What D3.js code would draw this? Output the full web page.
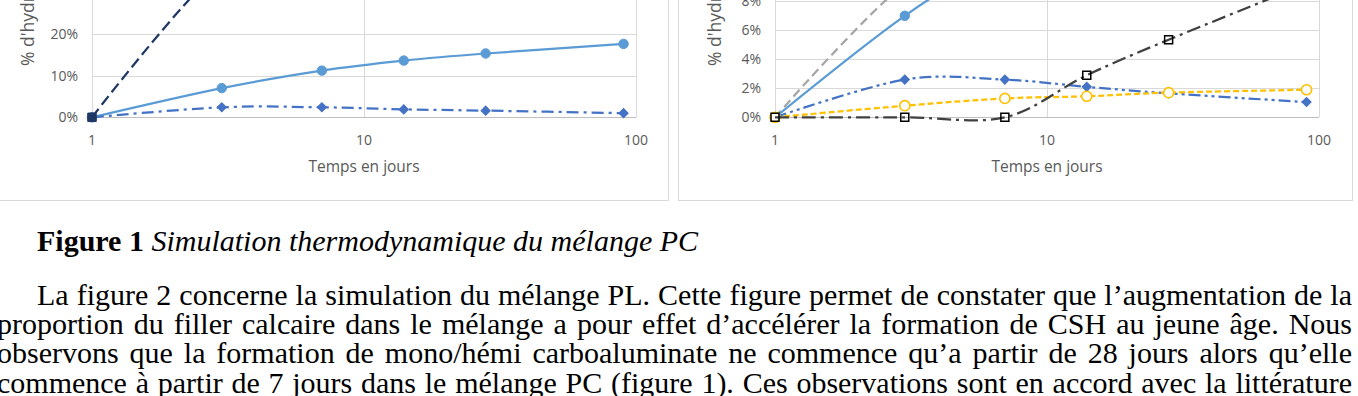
<!DOCTYPE html>
<html>
<head>
<meta charset="utf-8">
<script src="https://cdn.jsdelivr.net/npm/d3@7"></script>
<style>
  html, body { margin: 0; padding: 0; background: #fff; overflow: hidden; }
  svg { display: block; }
</style>
</head>
<body>
<svg id="page" width="1358" height="396"></svg>
<script>
// days of simulation (log axis)
const days = [1, 3, 7, 14, 28, 90];
const xTicks = [1, 10, 100];

// left chart (% of hydrates)
const leftNavy = [0, 36, 45, 50, 53, 55];
const leftCsh = [0, 7.0, 11.2, 13.6, 15.3, 17.6];
const leftBlue = [0, 2.4, 2.4, 1.9, 1.6, 1.0];
const leftYTicks = [0, 10, 20, 30, 40];

// right chart
const rightGray = [0, 9.2, 12, 14, 15, 16];
const rightCsh = [0, 7.0, 11.2, 13.6, 15.3, 17.6];
const rightBlue = [0, 2.6, 2.6, 2.1, 1.65, 1.05];
const rightYellow = [0, 0.8, 1.3, 1.45, 1.7, 1.9];
const rightBlack = [0, 0, 0, 2.9, 5.35, 9.2];
const rightYTicks = [0, 2, 4, 6, 8, 10, 12];

const xTitle = 'Temps en jours';
const yTitle = "% d'hydrates";

const caption = ['Figure 1', ' Simulation thermodynamique du mélange PC'];
const bodyLines = [
  'La figure 2 concerne la simulation du mélange PL. Cette figure permet de constater que l’augmentation de la',
  'proportion du filler calcaire dans le mélange a pour effet d’accélérer la formation de CSH au jeune âge. Nous',
  'observons que la formation de mono/hémi carboaluminate ne commence qu’a partir de 28 jours alors qu’elle',
  'commence à partir de 7 jours dans le mélange PC (figure 1). Ces observations sont en accord avec la littérature'
];

const svg = d3.select('#page');
const chartFont = "'Open Sans', sans-serif";
const textGray = '#595959';

function drawChart(cfg) {
  const g = svg.append('g');
  // chart frame
  g.append('rect')
    .attr('x', cfg.box[0] + 0.5).attr('y', -200)
    .attr('width', cfg.box[1] - cfg.box[0]).attr('height', 201 + 200 - 0.5)
    .attr('fill', '#fff').attr('stroke', '#d9d9d9').attr('stroke-width', 1);

  const x = d3.scaleLog().domain([1, 100]).range(cfg.xRange);
  const y = d3.scaleLinear().domain(cfg.yDomain).range([117.3, cfg.yTop]);

  // horizontal gridlines
  g.selectAll('.hg').data(cfg.yTicks.filter(d => d > 0)).enter()
    .append('line')
    .attr('x1', cfg.xRange[0]).attr('x2', cfg.xRange[1])
    .attr('y1', d => Math.round(y(d)) + 0.5).attr('y2', d => Math.round(y(d)) + 0.5)
    .attr('stroke', '#d9d9d9');
  // vertical gridlines
  g.selectAll('.vg').data(xTicks).enter()
    .append('line')
    .attr('x1', d => Math.round(x(d)) + 0.5).attr('x2', d => Math.round(x(d)) + 0.5)
    .attr('y1', y(0)).attr('y2', cfg.yTop)
    .attr('stroke', '#d9d9d9');
  // axis line
  g.append('line')
    .attr('x1', cfg.xRange[0]).attr('x2', cfg.xRange[1])
    .attr('y1', Math.round(y(0)) + 0.5).attr('y2', Math.round(y(0)) + 0.5)
    .attr('stroke', '#bfbfbf').attr('stroke-width', 1.2);

  // y tick labels
  g.selectAll('.yl').data(cfg.yTicks).enter()
    .append('text')
    .attr('x', cfg.xRange[0] - 14).attr('y', d => y(d) + 5)
    .attr('text-anchor', 'end')
    .style('font-family', chartFont).style('font-size', '14px').attr('fill', textGray)
    .text(d => d + '%');
  // x tick labels
  g.selectAll('.xl').data(xTicks).enter()
    .append('text')
    .attr('x', d => x(d)).attr('y', 145)
    .attr('text-anchor', 'middle')
    .style('font-family', chartFont).style('font-size', '14px').attr('fill', textGray)
    .text(d => d);
  // axis titles
  g.append('text')
    .attr('x', (cfg.xRange[0] + cfg.xRange[1]) / 2).attr('y', 172)
    .attr('text-anchor', 'middle')
    .style('font-family', chartFont).style('font-size', '15.5px').attr('fill', textGray)
    .text(xTitle);
  g.append('text')
    .attr('transform', `translate(${cfg.yTitleX}, 66) rotate(-90)`)
    .attr('text-anchor', 'start')
    .style('font-family', chartFont).style('font-size', '17.5px').attr('fill', textGray)
    .text(yTitle);

  const line = d3.line()
    .x((d, i) => x(days[i]))
    .y(d => y(d))
    .curve(d3.curveCatmullRom.alpha(0));

  cfg.series.forEach(s => {
    g.append('path')
      .datum(s.values)
      .attr('d', line)
      .attr('fill', 'none')
      .attr('stroke', s.color)
      .attr('stroke-width', 2.25)
      .attr('stroke-dasharray', s.dash)
      .attr('stroke-linejoin', 'round');
    if (s.symbol) {
      // excel style diamond = square turned by 45 degrees
      const turn = s.diamond ? ' rotate(45)' : '';
      g.selectAll(null).data(s.values).enter()
        .append('path')
        .attr('transform', (d, i) => `translate(${x(days[i])},${y(d)})${turn}`)
        .attr('d', d3.symbol().type(s.symbol).size(s.size))
        .attr('fill', s.fill)
        .attr('stroke', s.stroke)
        .attr('stroke-width', s.strokeWidth || 1);
    }
  });
}

drawChart({
  box: [-2, 668],
  xRange: [92, 636],
  yDomain: [0, 40],
  yTop: 117.3 - 40 * 4.17,
  yTicks: leftYTicks,
  yTitleX: 34,
  series: [
    { values: leftCsh, color: '#5b9bd5', dash: null, symbol: d3.symbolCircle, size: 70, fill: '#5b9bd5', stroke: '#5b9bd5' },
    { values: leftBlue, color: '#4472c4', dash: '12,5,3,5', symbol: d3.symbolSquare, diamond: true, size: 42, fill: '#4472c4', stroke: '#4472c4' },
    { values: leftNavy, color: '#203864', dash: '11,5', symbol: d3.symbolSquare, size: 72, fill: '#203864', stroke: '#203864' }
  ]
});

drawChart({
  box: [678, 1352],
  xRange: [775, 1319],
  yDomain: [0, 12],
  yTop: 117.3 - 12 * 14.5,
  yTicks: rightYTicks,
  yTitleX: 721,
  series: [
    { values: rightGray, color: '#a5a5a5', dash: '9,5' },
    { values: rightCsh, color: '#5b9bd5', dash: null, symbol: d3.symbolCircle, size: 70, fill: '#5b9bd5', stroke: '#5b9bd5' },
    { values: rightBlue, color: '#4472c4', dash: '12,4,3,4,3,4', symbol: d3.symbolSquare, diamond: true, size: 42, fill: '#4472c4', stroke: '#4472c4' },
    { values: rightYellow, color: '#ffc000', dash: '6,3', symbol: d3.symbolCircle, size: 80, fill: '#fff', stroke: '#ffc000', strokeWidth: 1.6 },
    { values: rightBlack, color: '#404040', dash: '14,5,3,5', symbol: d3.symbolSquare, size: 64, fill: 'none', stroke: '#000', strokeWidth: 1.5 }
  ]
});

// document text below the charts
const serif = "'Liberation Serif', 'Times New Roman', serif";
const bodySize = 30;

const cap = svg.append('text')
  .attr('x', 37).attr('y', 251)
  .style('font-family', serif).style('font-size', bodySize + 'px').attr('fill', '#000');
cap.append('tspan').style('font-weight', 'bold').text(caption[0]);
cap.append('tspan').style('font-style', 'italic').attr('xml:space', 'preserve').text(caption[1]);

function justify(text, x0, x1, yBase) {
  const words = text.split(' ');
  const g = svg.append('g');
  const nodes = words.map(w => g.append('text')
    .attr('y', yBase)
    .style('font-family', serif).style('font-size', bodySize + 'px').attr('fill', '#000')
    .text(w));
  const widths = nodes.map(n => n.node().getComputedTextLength());
  const total = d3.sum(widths);
  const gap = (x1 - x0 - total) / (words.length - 1);
  let cx = x0;
  nodes.forEach((n, i) => {
    n.attr('x', cx);
    cx += widths[i] + gap;
  });
}

const lineStarts = [37, -3, -3, -3];
const baselines = [305, 334, 363, 393];
bodyLines.forEach((t, i) => justify(t, lineStarts[i], 1352, baselines[i]));
</script>
</body>
</html>
